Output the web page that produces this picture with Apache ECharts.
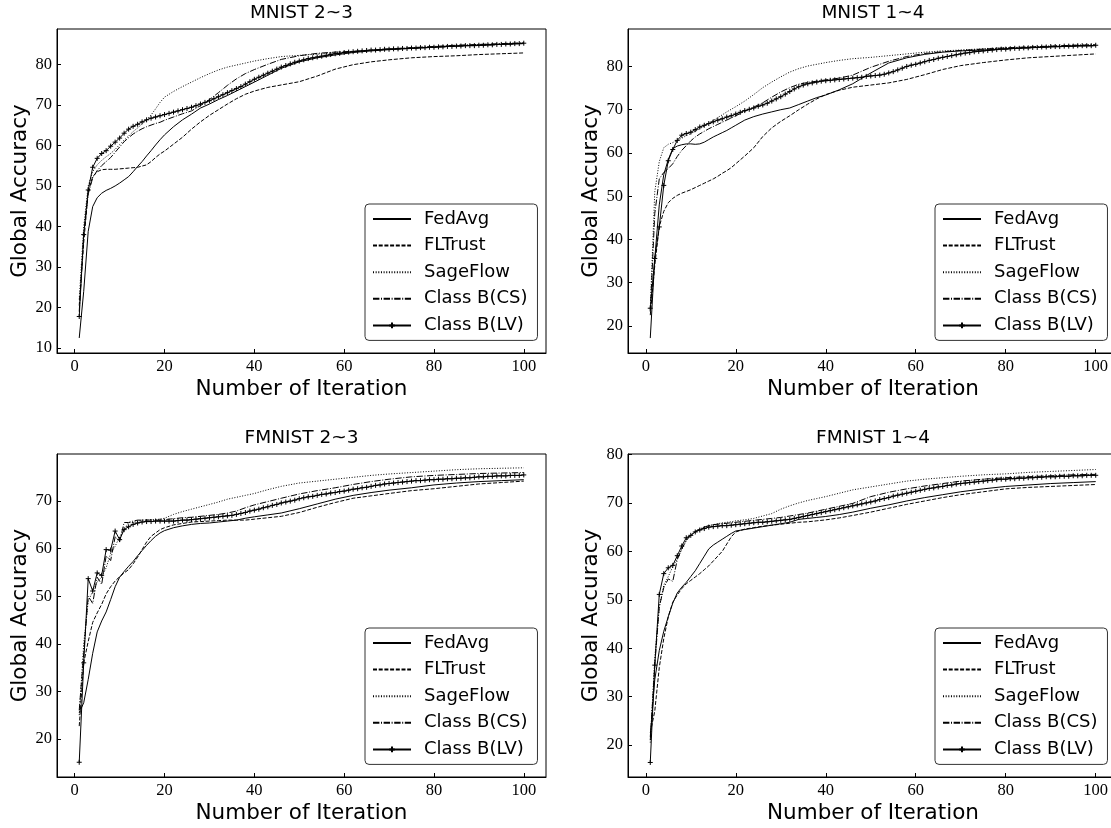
<!DOCTYPE html>
<html><head><meta charset="utf-8">
<script src="https://cdn.jsdelivr.net/npm/echarts@6/dist/echarts.min.js"></script>
<style>html,body{margin:0;padding:0;background:#fff}#c{width:1111px;height:828px}</style>
</head><body><div id="c"></div>
<script>
// ---------- DATA ----------
const SERIES_NAMES = ['FedAvg', 'FLTrust', 'SageFlow', 'Class B(CS)', 'Class B(LV)'];
const X_TICKS = [0, 20, 40, 60, 80, 100];
const Y_TICKS_MNIST23 = [10, 20, 30, 40, 50, 60, 70, 80];
const Y_TICKS_MNIST14 = [20, 30, 40, 50, 60, 70, 80];
const Y_TICKS_FMNIST23 = [20, 30, 40, 50, 60, 70];
const Y_TICKS_FMNIST14 = [20, 30, 40, 50, 60, 70, 80];

// iterations at which the un-marked curves are sampled
const ITER_S = [1,2,3,4,5,6,7,8,9,10,11,12,13,14,15,16,17,18,19,20,22,24,26,28,30,32,34,36,38,40,43,46,50,54,58,62,66,70,75,80,85,90,95,100];

// MNIST 2~3
const mnist23_fedavg = [12.5,24,38.8,44.9,47.1,48.2,48.9,49.4,50.0,50.7,51.5,52.3,53.5,54.8,56.0,57.4,58.7,60.1,61.4,62.6,64.6,66.3,67.7,69.2,70.2,71.3,72.3,73.4,74.5,75.6,77.3,79.0,80.6,81.6,82.3,82.9,83.3,83.6,83.9,84.2,84.5,84.7,84.9,85.1];
const mnist23_fltrust = [20.5,36,48.5,52.3,53.5,54.0,54.1,54.1,54.1,54.2,54.3,54.4,54.5,54.6,54.9,55.2,56.0,57.0,57.9,58.6,60.3,62.0,64.0,65.8,67.4,68.8,70.2,71.5,72.6,73.4,74.3,74.9,75.7,77.1,78.8,79.9,80.6,81.1,81.6,81.9,82.1,82.4,82.6,82.8];
const mnist23_sageflow = [22,40,50,53.5,55.2,56.3,57.2,58.0,59.0,60.2,61.3,62.3,63.4,64.3,65.3,66.3,67.5,69.0,70.6,71.9,73.3,74.5,75.6,76.7,77.7,78.6,79.3,79.8,80.3,80.8,81.4,81.9,82.2,82.5,82.8,83.1,83.4,83.7,84.0,84.3,84.6,84.8,85.0,85.2];
const mnist23_cs = [19,38,48,52,53.8,55.0,56.0,57.0,58.3,59.6,60.9,61.9,62.8,63.5,64.1,64.6,65.0,65.4,65.7,66.2,67.0,67.8,68.5,69.8,71.3,73.0,74.8,76.4,77.7,78.7,80.0,81.2,82.1,82.7,83.0,83.2,83.5,83.8,84.1,84.4,84.7,84.9,85.1,85.3];
const mnist23_lv = [17.8,38,49,54.6,56.8,58.0,58.7,59.8,60.8,61.8,63.0,64.0,64.7,65.2,65.8,66.3,66.7,67.0,67.3,67.6,67.9,68.2,68.5,68.8,69.1,69.4,69.8,70.2,70.6,71.0,71.5,72.0,72.5,73.0,73.5,74.0,74.5,75.1,75.7,76.3,76.8,77.3,77.8,78.3,78.8,79.3,79.7,80.1,80.5,80.8,81.1,81.4,81.6,81.8,82.0,82.2,82.4,82.6,82.7,82.9,83.0,83.1,83.2,83.3,83.4,83.5,83.5,83.6,83.7,83.7,83.8,83.8,83.9,83.9,84.0,84.0,84.1,84.1,84.2,84.2,84.3,84.3,84.4,84.4,84.5,84.5,84.6,84.6,84.6,84.7,84.7,84.8,84.8,84.9,84.9,85.0,85.0,85.1,85.1,85.2];

// MNIST 1~4
const mnist14_fedavg = [17.2,35.6,48,55,58.5,61,61.6,61.9,62.1,62.1,62.0,62.1,62.5,63.1,63.7,64.2,64.7,65.2,65.8,66.4,67.6,68.4,69.0,69.5,70.0,70.4,71.2,72.0,72.8,73.4,74.6,76.0,78.5,80.8,82.0,82.8,83.3,83.6,83.8,84.1,84.3,84.5,84.7,84.8];
const mnist14_fltrust = [22.5,34,43,46.5,48.5,49.5,50.2,50.7,51.1,51.5,52,52.5,53,53.5,54,54.6,55.3,55.9,56.6,57.5,59.3,61.2,63.8,65.8,67.3,68.6,70.0,71.3,72.5,73.5,74.5,75.2,75.7,76.2,77.0,78.1,79.3,80.2,80.9,81.5,82.0,82.3,82.6,82.9];
const mnist14_sageflow = [24,51,58,61.2,62.0,62.4,62.9,63.4,64.0,64.5,65.0,65.6,66.2,66.9,67.5,68.2,68.8,69.5,70.1,70.7,72.0,73.5,75.1,76.4,77.6,78.7,79.5,80.1,80.5,80.9,81.4,81.8,82.1,82.5,82.9,83.3,83.6,83.8,84.1,84.3,84.5,84.7,84.9,85.0];
const mnist14_cs = [23.3,46,54,55.5,56.4,57.5,59.2,60.6,61.7,62.8,63.7,64.4,65.0,65.6,66.1,66.6,67.1,67.6,68.1,68.6,69.6,70.6,71.6,72.9,74.1,75.1,75.9,76.3,76.6,76.9,77.3,78.0,79.8,81.2,82.3,83.0,83.4,83.7,84.0,84.3,84.5,84.7,84.9,85.0];
const mnist14_lv = [24.1,35.6,42.9,52.5,58.2,60.8,62.9,64.1,64.5,64.8,65.4,66.0,66.4,66.8,67.2,67.6,67.9,68.3,68.6,69.0,69.4,69.8,70.1,70.4,70.8,71.1,71.5,72.0,72.5,73.0,73.6,74.2,74.8,75.3,75.7,76.0,76.2,76.4,76.6,76.7,76.8,76.9,77.0,77.1,77.2,77.3,77.4,77.5,77.7,77.8,77.9,78.0,78.2,78.5,78.8,79.2,79.6,80.0,80.3,80.5,80.8,81.1,81.4,81.6,81.9,82.1,82.3,82.5,82.7,82.9,83.1,83.2,83.4,83.5,83.6,83.7,83.8,83.9,84.0,84.0,84.1,84.2,84.2,84.3,84.3,84.4,84.4,84.5,84.5,84.6,84.6,84.6,84.7,84.7,84.7,84.8,84.8,84.8,84.8,84.9];

// FMNIST 2~3
const fmnist23_fedavg = [25.5,27.6,32.5,38,42.5,44.8,46.7,49.3,52,54,55.2,56.3,57.3,58.5,59.6,60.7,61.7,62.6,63.3,63.8,64.4,64.8,65.1,65.3,65.4,65.6,65.8,66.0,66.4,66.7,67.1,67.5,68.4,69.4,70.4,71.2,71.8,72.3,72.8,73.4,73.8,74.1,74.3,74.5];
const fmnist23_fltrust = [22.7,36,40.5,44.5,46.5,48.3,50.5,52,53.2,54.1,54.9,55.6,56.8,58.2,59.8,61.4,62.6,63.3,64.0,64.4,65.0,65.3,65.6,65.7,65.8,65.9,66.0,66.0,66.0,66.2,66.5,66.8,67.6,68.7,69.7,70.6,71.1,71.6,72.2,72.6,73.1,73.6,73.9,74.2];
const fmnist23_sageflow = [25,40,49,51,53,54,56,59,60.5,62.5,64,65.5,65.5,65.8,66,66,66.1,66.1,66.2,66.4,67.2,67.8,68.3,68.8,69.3,69.8,70.4,70.8,71.2,71.6,72.4,73.1,73.8,74.2,74.6,75.0,75.4,75.7,76.0,76.3,76.6,76.8,76.9,77.0];
const fmnist23_cs = [26,38,50,48.5,54,52.5,58.5,57.5,62.5,61.5,65.5,65.5,65.8,66.0,66.0,66.0,66.0,66.0,66.0,66.1,66.3,66.5,66.6,66.8,67.0,67.2,67.5,67.9,68.6,69.2,69.9,70.6,71.5,72.2,72.8,73.5,74.1,74.6,75.1,75.4,75.6,75.8,75.9,76.0];
const fmnist23_lv = [15.1,36,53.7,51.1,54.9,54.4,59.8,59.7,63.7,61.9,64.0,64.6,65.1,65.4,65.6,65.7,65.7,65.8,65.8,65.8,65.8,65.8,65.9,66.0,66.0,66.1,66.2,66.3,66.4,66.5,66.6,66.7,66.8,66.9,67.0,67.2,67.4,67.6,67.9,68.1,68.3,68.6,68.8,69.1,69.3,69.6,69.8,70.0,70.2,70.5,70.7,70.9,71.0,71.2,71.4,71.5,71.7,71.8,72.0,72.1,72.3,72.5,72.6,72.8,72.9,73.1,73.3,73.4,73.6,73.7,73.8,73.9,74.0,74.1,74.2,74.3,74.3,74.4,74.5,74.5,74.6,74.6,74.7,74.7,74.8,74.8,74.9,74.9,75.0,75.1,75.1,75.2,75.2,75.3,75.3,75.3,75.4,75.4,75.4,75.5];

// FMNIST 1~4
const fmnist14_fedavg = [21.7,33.5,39.5,43.5,46.5,49.3,51.4,52.6,53.6,54.8,56.0,57.5,59.0,60.5,61.3,61.9,62.5,63.1,63.7,64.2,64.5,64.8,65.1,65.4,65.7,66.0,66.6,66.8,67.0,67.2,67.6,68.1,68.9,69.6,70.4,71.1,71.7,72.3,72.9,73.4,73.7,74.0,74.2,74.4];
const fmnist14_fltrust = [22.5,27,36,42,46.5,49.5,51,52.3,53.3,54.0,54.7,55.4,56.2,57.0,58.0,59.0,60.0,61.5,63.0,64.0,64.6,64.9,65.2,65.4,65.6,65.8,66.0,66.1,66.3,66.5,66.9,67.4,68.1,68.9,69.7,70.4,71.1,71.7,72.3,72.9,73.2,73.4,73.6,73.8];
const fmnist14_sageflow = [20.5,38,48.5,53,54.8,56.8,58.5,60.4,62.2,63.3,64.1,64.6,65.0,65.3,65.5,65.7,65.9,66.0,66.1,66.3,66.5,66.8,67.3,67.8,68.7,69.4,70.0,70.5,70.9,71.3,72.0,72.7,73.3,73.9,74.5,74.9,75.2,75.5,75.8,76.0,76.3,76.5,76.7,76.9];
const fmnist14_cs = [21,36.5,48.5,52.5,54.3,53.8,58.3,60.5,62.3,63.3,64.1,64.6,65.0,65.3,65.5,65.6,65.7,65.8,65.9,66.0,66.2,66.4,66.6,66.8,67.0,67.3,67.6,67.9,68.3,68.7,69.3,69.9,71.3,72.2,72.9,73.5,74.0,74.5,74.9,75.2,75.4,75.6,75.8,75.9];
const fmnist14_lv = [16.4,36.5,51.1,55.4,56.6,57.1,59.1,61.1,62.8,63.3,64.0,64.4,64.7,65.0,65.1,65.2,65.3,65.3,65.4,65.5,65.6,65.7,65.8,65.9,66.0,66.0,66.1,66.2,66.3,66.4,66.5,66.6,66.8,67.0,67.2,67.4,67.6,67.8,68.0,68.2,68.4,68.6,68.8,69.0,69.2,69.4,69.6,69.8,70.0,70.2,70.4,70.7,70.9,71.1,71.4,71.6,71.8,72.0,72.2,72.4,72.6,72.8,73.0,73.1,73.3,73.4,73.6,73.7,73.9,74.0,74.1,74.2,74.3,74.4,74.5,74.6,74.7,74.8,74.9,74.9,75.0,75.0,75.1,75.1,75.2,75.2,75.3,75.3,75.4,75.4,75.4,75.5,75.5,75.5,75.6,75.6,75.6,75.7,75.7,75.7];

// ---------- LAYOUT / STYLE ----------
const PANELS = [
  {title:'MNIST 2~3', titleTop:4, grid:{left:57, top:29, width:489, height:324}, y:[8.8, 88.7], yTicks:Y_TICKS_MNIST23, legend:{left:365, top:204},
   s:[mnist23_fedavg, mnist23_fltrust, mnist23_sageflow, mnist23_cs], lv:mnist23_lv},
  {title:'MNIST 1~4', titleTop:4, grid:{left:628, top:29, width:490, height:324}, y:[13.75, 88.66], yTicks:Y_TICKS_MNIST14, legend:{left:935, top:204},
   s:[mnist14_fedavg, mnist14_fltrust, mnist14_sageflow, mnist14_cs], lv:mnist14_lv},
  {title:'FMNIST 2~3', titleTop:429, grid:{left:57, top:454, width:489, height:323}, y:[12.0, 79.9], yTicks:Y_TICKS_FMNIST23, legend:{left:365, top:628},
   s:[fmnist23_fedavg, fmnist23_fltrust, fmnist23_sageflow, fmnist23_cs], lv:fmnist23_lv},
  {title:'FMNIST 1~4', titleTop:429, grid:{left:628, top:454, width:490, height:323}, y:[13.4, 80.1], yTicks:Y_TICKS_FMNIST14, legend:{left:935, top:628},
   s:[fmnist14_fedavg, fmnist14_fltrust, fmnist14_sageflow, fmnist14_cs], lv:fmnist14_lv}
];
const DASHES = ['solid', [4, 1.7], [1, 1.65], [6.4, 1.6, 1, 1.6], 'solid'];
const PLUS = 'path://M0,5 L10,5 M5,0 L5,10';
const TICK_FONT = {color:'#000', fontFamily:'Liberation Serif', fontSize:16.5};
const NAME_FONT = {color:'#000', fontFamily:'DejaVu Sans', fontSize:21.5};

const grids = [], xAxes = [], yAxes = [], titles = [], legends = [], series = [];
const legendData = SERIES_NAMES.map((n, j) => j < 4 ? {name:n, itemStyle:{opacity:0}} : {name:n});
PANELS.forEach((p, k) => {
  grids.push(Object.assign({show:true, borderColor:'#000', borderWidth:1, backgroundColor:'#fff', outerBoundsMode:'none', containLabel:false}, p.grid));
  titles.push({text:p.title, left:p.grid.left + p.grid.width / 2, top:p.titleTop, textAlign:'center', padding:0,
    textStyle:{fontFamily:'DejaVu Sans', fontSize:18.5, fontWeight:'normal', color:'#000'}});
  xAxes.push({type:'value', gridIndex:k, min:-3.95, max:104.95,
    name:'Number of Iteration', nameLocation:'middle', nameGap:25, nameTextStyle:NAME_FONT,
    axisLine:{show:true, onZero:false, lineStyle:{color:'#000', width:1}},
    axisTick:{show:true, inside:true, length:4, lineStyle:{color:'#000'}, customValues:X_TICKS},
    axisLabel:Object.assign({show:true, margin:5, customValues:X_TICKS}, TICK_FONT),
    splitLine:{show:false}});
  yAxes.push({type:'value', gridIndex:k, min:p.y[0], max:p.y[1],
    name:'Global Accuracy', nameLocation:'middle', nameGap:24, nameTextStyle:NAME_FONT,
    axisLine:{show:true, onZero:false, lineStyle:{color:'#000', width:1}},
    axisTick:{show:true, inside:true, length:4, lineStyle:{color:'#000'}, customValues:p.yTicks},
    axisLabel:Object.assign({show:true, margin:5, customValues:p.yTicks}, TICK_FONT),
    splitLine:{show:false}});
  legends.push({orient:'vertical', left:p.legend.left, top:p.legend.top, data:legendData, selectedMode:false,
    itemWidth:38, itemHeight:7, itemGap:8.6, padding:[6, 10, 6, 7],
    borderColor:'#333', borderWidth:1, borderRadius:4, backgroundColor:'#fff',
    textStyle:{fontFamily:'DejaVu Sans', fontSize:18, lineHeight:18, color:'#000', padding:[0, 0, 0, 8]}});
  p.s.forEach((vals, j) => {
    series.push({type:'line', name:SERIES_NAMES[j], xAxisIndex:k, yAxisIndex:k,
      data: vals.map((v, i) => [ITER_S[i], v]), symbol:'none', silent:true, z:2 + j,
      lineStyle:{color:'#000', width:1, type:DASHES[j]}, itemStyle:{color:'#000'}});
  });
  series.push({type:'line', name:SERIES_NAMES[4], xAxisIndex:k, yAxisIndex:k,
    data: p.lv.map((v, i) => [i + 1, v]), symbol:PLUS, symbolSize:5, showAllSymbol:true, silent:true, z:7,
    lineStyle:{color:'#000', width:1, type:'solid'}, itemStyle:{color:'#000', borderColor:'#000', borderWidth:1}});
});

const chart = echarts.init(document.getElementById('c'), null, {renderer:'canvas'});
chart.setOption({animation:false, backgroundColor:'#fff', grid:grids, xAxis:xAxes, yAxis:yAxes, title:titles, legend:legends, series:series});
</script></body></html>
